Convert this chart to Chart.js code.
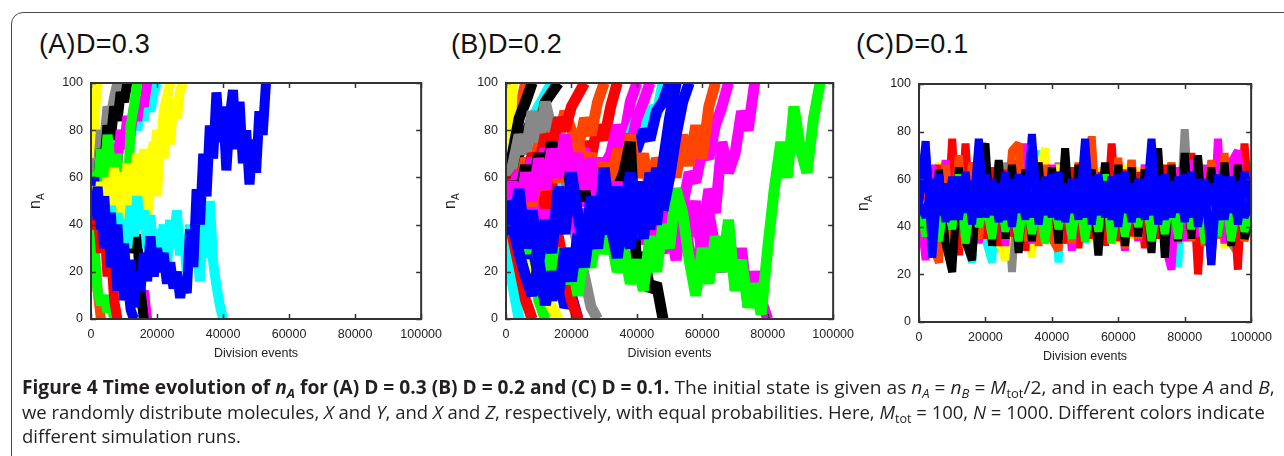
<!DOCTYPE html>
<html>
<head>
<meta charset="utf-8">
<script src="https://cdn.jsdelivr.net/npm/chart.js@4.4.1/dist/chart.umd.min.js"></script>
<style>
  html, body { margin: 0; padding: 0; background: #fff; }
  body { width: 1284px; height: 456px; position: relative; overflow: hidden; }
  .box { position: absolute; left: 11px; top: 12px; width: 1300px; height: 500px;
         border: 1.5px solid #4a4a4a; border-radius: 12px; }
  .ttl { position: absolute; font-family: "Liberation Sans", Arial, sans-serif; font-size: 27px;
         line-height: 26px; color: #111; letter-spacing: 0.3px; white-space: nowrap; }
  canvas { position: absolute; }
  .cap { position: absolute; left: 22px; font-family: "Open Sans", sans-serif; font-size: 19px;
         line-height: 19px; color: #231f20; white-space: nowrap; transform-origin: 0 0; }
  .cap b { font-weight: 700; }
  .cap sub { font-size: 0.68em; vertical-align: -0.28em; line-height: 0; }
</style>
</head>
<body>
<div class="box"></div>
<div class="ttl" style="left:39px;top:31px">(A)D=0.3</div>
<div class="ttl" style="left:451px;top:31px">(B)D=0.2</div>
<div class="ttl" style="left:856px;top:31px">(C)D=0.1</div>
<canvas id="cA" width="420" height="320" style="left:30px;top:60px"></canvas>
<canvas id="cB" width="417" height="320" style="left:445px;top:60px"></canvas>
<canvas id="cC" width="422" height="322" style="left:858px;top:61px"></canvas>
<div class="cap" id="l1" data-w="1253" style="top:378px"><b>Figure 4 Time evolution of <i>n<sub>A</sub></i> for (A) D = 0.3 (B) D = 0.2 and (C) D = 0.1.</b> The initial state is given as <i>n</i><sub><i>A</i></sub> = <i>n</i><sub><i>B</i></sub> = <i>M</i><sub>tot</sub>/2, and in each type <i>A</i> and <i>B</i>,</div>
<div class="cap" id="l2" data-w="1243" style="top:403px">we randomly distribute molecules, <i>X</i> and <i>Y</i>, and <i>X</i> and <i>Z</i>, respectively, with equal probabilities. Here, <i>M</i><sub>tot</sub> = 100, <i>N</i> = 1000. Different colors indicate</div>
<div class="cap" id="l3" style="top:427px">different simulation runs.</div>
<script>
// x axis ticks, shared by all panels
var xTicks = [0, 20000, 40000, 60000, 80000, 100000];
var yTicks = [0, 20, 40, 60, 80, 100];

// (A) D=0.3, one value every 1000 division events
var aBlue1 = [50,44,56,38,52,30,45,22,40,15,32,10,25,5,20,12,28,16,35,18,30,20,28,15,24,13,20,9,17,11,38,22,55,40,70,52,82,68,96,75,90,63,85,97,72,92,66,80,57,76,62,88,78,100];
var aBlue2 = [50,60,42,55,30,48,22,38,12,30,8,18,4,0];
var aCyan1 = [50,46,55,40,52,36,48,33,45,28,42,30,48,35,52,38,46,30,44,25,38,28,40,22,42,30,46,27,36,20,40,24,32,16,42,26,50,24,14,6,0];
var aCyan2 = [50,58,52,64,56,70,62,75,68,80,72,84,76,88,80,90,84,94,88,96,100];
var aYellow1 = [50,56,44,58,42,60,48,64,52,62,45,66,40,58,70,50,72,42,64,75,52,80,68,88,74,94,85,97,100];
var aYellow2 = [50,85,100];
var aYellow3 = [50,46,54,42,56,48,60,44,52,40,58,46,62,42,55,48,66,52,72,60,80,70,88,94,100];
var aGreen1 = [50,62,55,72,60,78,66,45,70,32,60,48,82,90,100];
var aGreen2 = [50,30,12,6,10,3,8,0];
var aRed = [50,38,46,28,40,18,30,8,0];
var aOrange = [50,30,12,0];
var aBlack1 = [50,58,45,64,55,72,60,48,66,52,60,40,48,28,36,12,0];
var aBlack2 = [50,62,56,72,66,82,76,90,84,96,92,100];
var aMagenta1 = [50,58,48,64,56,70,62,74,66,80,72,86,78,90,84,94,90,100];
var aMagenta2 = [50,42,55,38,48,30,42,25,36,20,30,15,25,10,18,6,12,0];
var aGray = [50,68,62,80,75,90,86,94,100];

// (B) D=0.2, one value every 2000 division events
var bBlue1 = [50,40,28,18,10,24,6,20,10,30,16,36,22,42,30,52,36,56,40,62,45,58,38,64,46,60,78,92,100];
var bBlue2 = [50,38,55,30,46,24,42,28,56,36,62,44,28,52,34,64,40,26,46,30,58,34,62,40,66,85,100];
var bBlue3 = [50,36,44,26,34,16,26,8,18,5,10,0];
var bBlue4 = [50,58,52,64,56,68,60,72,64,70,58,66,54,62,50,60,48,58,55,66,72,80,76,88,92,100];
var bGreen1 = [50,42,35,28,40,25,35,20,30,15,25,10,30,22,38,28,35,20,30,15,25,12,35,20,40,30,55,45,25,10,30,15,35,20,42,12,25,5,15,2,30,55,75,60,90,72,62,85,100];
var bGreen2 = [50,30,62,20,45,8,0];
var bMagenta1 = [50,58,45,62,50,68,55,72,60,78,62,70,55,68,50,62,45,58,40,55,35,48,30,45,28,40,25,45,30,15,35,55,45,75,62,70,88,80,100];
var bMagenta2 = [50,55,48,60,52,65,58,70,62,66,55,62,48,58,52,65,70,82,76,92,100];
var bMagenta3 = [50,45,55,40,52,38,48,35,45,40,52,38,46,42,55,40,50,35,48,42,55,38,50,35,45,30,40,55,35,50,25,45,30,20,40,15,30,5,20,8,0];
var bMagenta4 = [50,56,62,55,68,60,72,65,70,62,75,66,72,60,68,58,70,64,78,72,85,92,100];
var bMagenta5 = [50,46,54,42,50,38,46,35,44,40,50,36,45,38,48,34,42,30,40,35,45,32,40,28,38,42,55,48,62,58,72,68,82,90,100];
var bBlack1 = [50,58,52,65,55,70,60,75,62,70,55,65,50,62,48,58,45,55,62,75,20,28,12,15,0];
var bBlack2 = [50,70,85,92,100];
var bBlack3 = [50,62,70,78,85,80,92,96,100];
var bOrange1 = [50,58,52,60,48,62,55,68,58,72,62,75,65,70,58,66,55,72,62,78,60,70,55,68,62,75,60,78,65,82,68,90,100];
var bOrange2 = [50,60,55,68,62,75,70,82,76,88,80,72,85,78,92,100];
var bOrange3 = [50,72,88,100];
var bRed1 = [50,35,22,8,0];
var bRed2 = [50,60,52,65,55,68,45,58,35,20,8,0];
var bRed3 = [50,58,62,55,70,65,78,72,85,80,90,95,100];
var bRed4 = [50,56,48,62,55,68,60,72,65,58,70,62,75,68,82,76,90,100];
var bGray = [50,65,78,70,88,75,92,80,85,62,45,30,18,5,0];
var bCyan1 = [50,55,48,60,52,58,50,62,55,65,58,62,52,60,55,66,58,70,62,78,85,76,90,86,100];
var bCyan2 = [50,15,0];
var bCyan3 = [50,62,70,78,85,90,95,100];
var bYellow1 = [50,40,30,22,15,25,10,5,0];
var bYellow2 = [50,100];

// (C) D=0.1, one value every 2000 division events
var cBlue = [50,76,27,62,42,61,43,63,41,77,44,60,42,63,40,62,43,79,41,61,44,63,42,60,43,77,41,62,44,61,40,63,42,60,43,77,41,62,44,61,42,63,40,60,24,62,43,61,41,63,48];
var cBlue2 = [50,44,60,45,58,43,61,46,59,44,62,45,58,43,60,46,61,44,59,45,62,43,58,46,60,44,61,45,59,43,62,46,58,44,60,45,61,43,59,46,62,44,60,45,58,43,61,46,59,44,50];
var cGreen = [50,36,54,34,52,39,62,33,53,40,51,35,56,38,52,34,54,37,50,33,55,39,52,35,54,34,53,38,62,33,52,36,51,40,55,34,53,37,54,35,62,39,55,33,53,36,56,34,52,38,48];
var cRed = [50,64,33,66,31,77,28,75,34,63,35,65,32,64,36,65,30,63,34,64,37,63,33,65,31,66,35,63,32,75,34,64,36,63,31,65,35,66,33,63,36,71,20,64,33,64,35,65,22,75,40];
var cOrange = [50,68,32,25,66,34,70,31,67,35,69,33,65,36,72,75,34,68,32,66,35,30,70,33,67,35,78,32,66,34,69,31,68,35,65,33,70,32,67,36,66,34,69,32,68,35,71,33,66,34,45];
var cBlack = [50,73,36,64,33,21,65,34,26,66,75,32,68,35,66,29,64,34,67,36,65,33,73,35,66,34,64,28,67,35,66,32,65,36,64,29,73,27,66,34,71,35,70,33,65,36,67,32,66,35,45];
var cMagenta = [50,26,66,34,68,32,65,36,67,33,69,35,66,32,68,34,75,33,67,35,66,34,68,30,65,36,67,33,66,35,64,30,68,34,66,35,67,33,22,65,34,68,36,66,24,77,33,67,72,35,45];
var cGray = [50,70,35,65,33,67,36,64,34,66,35,65,33,67,21,64,35,66,34,65,36,67,33,64,35,66,75,34,65,36,67,33,64,35,66,34,65,36,67,33,81,35,64,34,66,36,65,33,29,66,45];
var cCyan = [50,34,66,35,64,33,65,34,25,66,35,25,64,34,66,33,65,36,72,34,65,25,66,35,64,33,66,34,65,36,64,33,66,35,65,34,66,33,64,23,65,70,34,66,35,64,33,65,34,66,45];
var cYellow = [50,65,35,67,34,64,36,66,33,65,35,64,34,26,66,35,64,27,65,73,34,66,35,64,33,66,34,65,36,64,33,66,35,65,34,64,36,66,33,65,34,66,35,64,33,65,31,66,34,64,45];

var col = {
  blue: '#0000ff', green: '#00ff00', red: '#ff0000', orange: '#ff4500', magenta: '#ff00ff',
  cyan: '#00ffff', yellow: '#ffff00', black: '#000000', gray: '#888888'
};

// first entry ends up on top
var runsA = [[aBlue1,'blue'],[aCyan1,'cyan'],[aYellow1,'yellow'],[aYellow3,'yellow'],[aBlue2,'blue'],[aGreen1,'green'],[aBlack1,'black'],
  [aMagenta1,'magenta'],[aBlack2,'black'],[aRed,'red'],[aGreen2,'green'],[aGray,'gray'],[aOrange,'orange'],
  [aMagenta2,'magenta'],[aCyan2,'cyan'],[aYellow2,'yellow']];
var runsB = [[bBlue1,'blue'],[bBlue2,'blue'],[bGreen1,'green'],[bMagenta1,'magenta'],[bBlack1,'black'],[bOrange1,'orange'],
  [bBlue4,'blue'],[bMagenta4,'magenta'],[bMagenta5,'magenta'],
  [bRed2,'red'],[bRed3,'red'],[bBlue3,'blue'],[bGray,'gray'],[bCyan1,'cyan'],[bMagenta2,'magenta'],[bMagenta3,'magenta'],
  [bRed1,'red'],[bOrange2,'orange'],[bRed4,'red'],[bYellow1,'yellow'],[bCyan2,'cyan'],[bGreen2,'green'],[bBlack2,'black'],
  [bBlack3,'black'],[bYellow2,'yellow'],[bCyan3,'cyan'],[bOrange3,'orange']];
var runsC = [[cBlue,'blue'],[cBlue2,'blue'],[cGreen,'green'],[cBlack,'black'],[cOrange,'orange'],[cMagenta,'magenta'],
  [cRed,'red'],[cYellow,'yellow'],[cGray,'gray'],[cCyan,'cyan']];

var tickFont = { family: 'Liberation Sans, Arial, sans-serif', size: 12.5 };

// gnuplot-like box with inward ticks, plus the two axis titles
var framePlugin = {
  id: 'frame',
  afterDraw: function (chart) {
    var ctx = chart.ctx, a = chart.chartArea;
    var xs = chart.scales.x, ys = chart.scales.y;
    ctx.save();
    ctx.strokeStyle = '#333';
    ctx.lineWidth = 1.5;
    ctx.beginPath();
    xTicks.forEach(function (v) {
      var px = Math.round(xs.getPixelForValue(v)) + 0.5;
      ctx.moveTo(px, a.bottom); ctx.lineTo(px, a.bottom - 5);
      ctx.moveTo(px, a.top); ctx.lineTo(px, a.top + 5);
    });
    yTicks.forEach(function (v) {
      var py = Math.round(ys.getPixelForValue(v)) + 0.5;
      ctx.moveTo(a.left, py); ctx.lineTo(a.left + 5, py);
      ctx.moveTo(a.right, py); ctx.lineTo(a.right - 5, py);
    });
    ctx.stroke();
    ctx.lineWidth = 2;
    ctx.strokeRect(a.left, a.top, a.right - a.left, a.bottom - a.top);

    ctx.fillStyle = '#222';
    ctx.font = '12.5px Liberation Sans, Arial, sans-serif';
    ctx.textAlign = 'center';
    ctx.textBaseline = 'middle';
    ctx.fillText('Division events', (a.left + a.right) / 2, a.bottom + 35);

    ctx.translate(a.left - 55, (a.top + a.bottom) / 2);
    ctx.rotate(-Math.PI / 2);
    ctx.font = '16px Liberation Sans, Arial, sans-serif';
    ctx.textAlign = 'left';
    ctx.fillText('n', -8, 0);
    ctx.font = '10px Liberation Sans, Arial, sans-serif';
    ctx.fillText('A', 1, 5);
    ctx.restore();
  }
};

function makePanel(id, runs, step, width) {
  var sets = runs.map(function (r) {
    return {
      data: r[0].map(function (v, i) { return { x: i * step, y: v }; }),
      borderColor: col[r[1]],
      borderWidth: width,
      borderJoinStyle: 'bevel',
      pointRadius: 0,
      tension: 0,
      fill: false,
      clip: 0
    };
  });
  return new Chart(document.getElementById(id), {
    type: 'line',
    data: { datasets: sets },
    options: {
      responsive: false,
      animation: false,
      layout: { padding: { top: 23, right: 27, left: 0, bottom: 0 } },
      plugins: { legend: { display: false }, tooltip: { enabled: false } },
      scales: {
        x: {
          type: 'linear', min: 0, max: 100000,
          afterFit: function (s) { s.height = 61; },
          grid: { display: false, drawTicks: false },
          border: { display: false },
          afterBuildTicks: function (s) { s.ticks = xTicks.map(function (v) { return { value: v }; }); },
          ticks: { autoSkip: false, maxRotation: 0, padding: 8, color: '#222', font: tickFont,
                   callback: function (v) { return String(v); } }
        },
        y: {
          min: 0, max: 100,
          afterFit: function (s) { s.width = 61; },
          grid: { display: false, drawTicks: false },
          border: { display: false },
          afterBuildTicks: function (s) { s.ticks = yTicks.map(function (v) { return { value: v }; }); },
          ticks: { padding: 8, color: '#222', font: tickFont }
        }
      }
    },
    plugins: [framePlugin]
  });
}

makePanel('cA', runsA, 1000, 10);
makePanel('cB', runsB, 2000, 11);
makePanel('cC', runsC, 2000, 8);

// squeeze the caption lines to the measured widths of the printed figure
var l1 = document.getElementById('l1'), l2 = document.getElementById('l2'), l3 = document.getElementById('l3');
var s1 = +l1.dataset.w / l1.scrollWidth, s2 = +l2.dataset.w / l2.scrollWidth;
l1.style.transform = 'scaleX(' + s1 + ')';
l2.style.transform = 'scaleX(' + s2 + ')';
l3.style.transform = 'scaleX(' + s2 + ')';
</script>
</body>
</html>
